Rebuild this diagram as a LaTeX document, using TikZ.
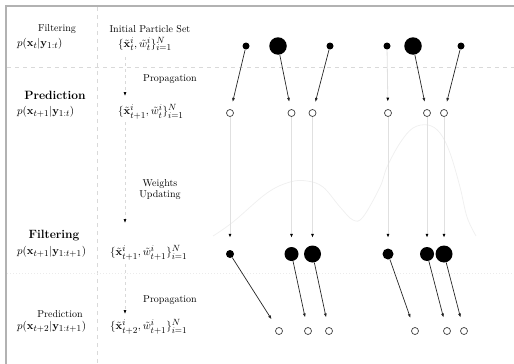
\documentclass[tikz,border=0pt]{standalone}
\usetikzlibrary{arrows.meta}
\DeclareMathSizes{11}{11}{8.8}{6.6}
\begin{document}
\begin{tikzpicture}[x=1pt,y=-1pt,
  part/.style={circle, fill=black, inner sep=0pt, minimum size=#1},
  opn/.style={circle, draw=black!75, line width=0.7pt, inner sep=0pt, minimum size=7pt, fill=white},
  arr/.style={-{Latex[length=4pt,width=3pt]}, line width=0.7pt, black!85},
  garr/.style={-{Latex[length=4pt,width=3pt,color=black]}, line width=0.8pt, black!12},
  darr/.style={-{Latex[length=4pt,width=3pt,color=black]}, line width=0.6pt, black!15, dash pattern=on 3pt off 3pt},
  guide/.style={black!15, line width=0.6pt, dash pattern=on 4pt off 4pt},
  lbl/.style={inner sep=0pt, font=\fontsize{10}{12}\selectfont},
  mth/.style={inner sep=0pt, font=\fontsize{11}{13}\selectfont},
  ttl/.style={inner sep=0pt, font=\fontsize{12}{14}\selectfont\bfseries}
]
\useasboundingbox (0,0) rectangle (514,364);
% frame
\draw[black!30, line width=2pt] (6,364) -- (6,6) -- (514,6);
% guides
\draw[guide] (97,7) -- (97,364);
\draw[guide] (7,67) -- (514,67);
\draw[black!8, line width=0.5pt, dash pattern=on 1pt off 2pt] (7,273) -- (514,273);
% likelihood curve
\draw[black!6, line width=0.8pt] plot[smooth, tension=0.6] coordinates {
 (213,236) (233,222) (267,193) (290,182) (307,181) (323,187) (340,207) (353,220)
 (363,217) (380,187) (387,167) (400,143) (413,128) (428,125) (440,133) (450,153)
 (460,187) (467,217) (476,236)};
% left column texts
\node[lbl] (f1) at (57,29) {Filtering};
\node[mth, anchor=west] (p1) at (17,44) {$p(\mathbf{x}_t|\mathbf{y}_{1:t})$};
\node[ttl] (f2) at (55,95) {Prediction};
\node[mth, anchor=west] (p2) at (17,112) {$p(\mathbf{x}_{t+1}|\mathbf{y}_{1:t})$};
\node[ttl] (f3) at (54,236) {Filtering};
\node[mth, anchor=west] (p3) at (17,252) {$p(\mathbf{x}_{t+1}|\mathbf{y}_{1:t+1})$};
\node[lbl] (f4) at (60,314) {Prediction};
\node[mth, anchor=west] (p4) at (17,327) {$p(\mathbf{x}_{t+2}|\mathbf{y}_{1:t+1})$};
% middle column texts
\node[lbl] (ips) at (150,29) {Initial Particle Set};
\node[mth, anchor=west] (s1) at (118,44) {$\{\tilde{\mathbf{x}}_t^i,\tilde{w}_t^i\}_{i=1}^N$};
\node[lbl] (pr1) at (170,79) {Propagation};
\node[mth, anchor=west] (s2) at (118,112) {$\{\tilde{\mathbf{x}}_{t+1}^i,\tilde{w}_t^i\}_{i=1}^N$};
\node[lbl] (wu1) at (160,184) {Weights};
\node[lbl] (wu2) at (160,195) {Updating};
\node[mth, anchor=west] (s3) at (110,253) {$\{\tilde{\mathbf{x}}_{t+1}^i,\tilde{w}_{t+1}^i\}_{i=1}^N$};
\node[lbl] (pr2) at (170,300) {Propagation};
\node[mth, anchor=west] (s4) at (110,327) {$\{\tilde{\mathbf{x}}_{t+2}^i,\tilde{w}_{t+1}^i\}_{i=1}^N$};
% dashed stage arrows
\coordinate (k1) at (125,57);  \coordinate (k2) at (125,96);
\coordinate (k3) at (125,122); \coordinate (k4) at (125,223);
\coordinate (k5) at (125,264); \coordinate (k6) at (125,314);
\draw[darr] (k1) -- (k2);
\draw[darr] (k3) -- (k4);
\draw[darr] (k5) -- (k6);
% particles
\node[part=7pt]    (a1) at (246,46) {};
\node[part=17.5pt] (a2) at (278,46) {};
\node[part=7pt]    (a3) at (330,46) {};
\node[part=7pt]    (a4) at (387,46) {};
\node[part=17.5pt] (a5) at (413,46) {};
\node[part=7pt]    (a6) at (461,46) {};
\node[opn] (b1) at (230,113) {};
\node[opn] (b2) at (291.5,113) {};
\node[opn] (b3) at (312.5,113) {};
\node[opn] (b4) at (388,113) {};
\node[opn] (b5) at (427,113) {};
\node[opn] (b6) at (444,113) {};
\node[part=8pt]  (c1) at (230,254) {};
\node[part=14pt] (c2) at (291.5,254) {};
\node[part=17pt] (c3) at (312.5,254) {};
\node[part=11pt] (c4) at (388,254) {};
\node[part=14pt] (c5) at (427,254) {};
\node[part=17pt] (c6) at (444,254) {};
\node[opn] (d1) at (279,331) {};
\node[opn] (d2) at (308,331) {};
\node[opn] (d3) at (329,331) {};
\node[opn] (d4) at (415,331) {};
\node[opn] (d5) at (447,331) {};
\node[opn] (d6) at (464,331) {};
% propagation arrows
\draw[arr, shorten >=7.5pt] (a1) -- (b1);
\draw[arr, shorten >=7.5pt] (a2) -- (b2);
\draw[arr, shorten >=7.5pt] (a3) -- (b3);
\draw[garr, shorten >=7.5pt] (a4) -- (b4);
\draw[arr, shorten >=7.5pt] (a5) -- (b5);
\draw[arr, shorten >=7.5pt] (a6) -- (b6);
% weight updating
\draw[garr, shorten >=12pt] (b1) -- (c1);
\draw[garr, shorten >=9pt] (b2) -- (c2);
\draw[garr, shorten >=7.5pt] (b3) -- (c3);
\draw[garr, shorten >=10.5pt] (b4) -- (c4);
\draw[garr, shorten >=9pt] (b5) -- (c5);
\draw[garr, shorten >=7.5pt] (b6) -- (c6);
% second propagation
\draw[arr, shorten >=10pt] (c1) -- (d1);
\draw[arr, shorten >=10pt] (c2) -- (d2);
\draw[arr, shorten >=10pt] (c3) -- (d3);
\draw[arr, shorten >=10pt] (c4) -- (d4);
\draw[arr, shorten >=10pt] (c5) -- (d5);
\draw[arr, shorten >=10pt] (c6) -- (d6);
\end{tikzpicture}
\end{document}
